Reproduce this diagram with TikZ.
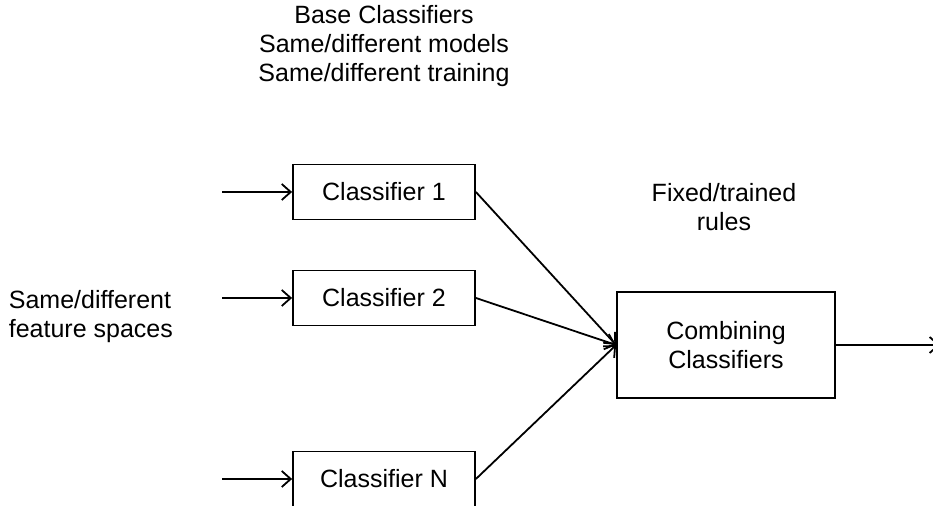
\documentclass[tikz,border=0pt]{standalone}
\usepackage{fontspec}
\setmainfont{Liberation Sans}
\usetikzlibrary{arrows.meta}

\tikzset{
  clfbox/.style={draw, minimum width=91pt, minimum height=27.5pt, inner sep=0pt},
  combbox/.style={draw, minimum width=109pt, minimum height=53pt, inner sep=0pt, align=center},
}

\begin{document}
\begin{tikzpicture}[x=0.5pt, y=-0.5pt, line width=0.9pt,
    >={Straight Barb[length=4.5pt,width=8pt]},
    font=\fontsize{12.5}{14.5}\selectfont]
    \clip (0,0) rectangle (933,506);

    \node (base) [align=center] at (384,46) {Base Classifiers\\Same/different models\\Same/different training};
    \node (rules) [align=center] at (724,207) {Fixed/trained\\rules};
    \node (feat) [align=left, anchor=west, inner sep=0pt] at (8,317) {Same/different\\feature spaces};

    \node (c1) [clfbox] at (384,192) {Classifier 1};
    \node (c2) [clfbox] at (384,298) {Classifier 2};
    \node (cN) [clfbox] at (384,479) {Classifier N};
    \node (comb) [combbox] at (726,345) {Combining\\Classifiers};

    \coordinate (in1) at (222,192);
    \coordinate (in2) at (222,298);
    \coordinate (inN) at (222,479);
    \coordinate (out) at (940,345);

    \path[->]
    (in1) edge (c1)
    (in2) edge (c2)
    (inN) edge (cN)
    (c1.east) edge (comb.west)
    (c2.east) edge (comb.west)
    (cN.east) edge (comb.west)
    (comb) edge (out);
\end{tikzpicture}
\end{document}
